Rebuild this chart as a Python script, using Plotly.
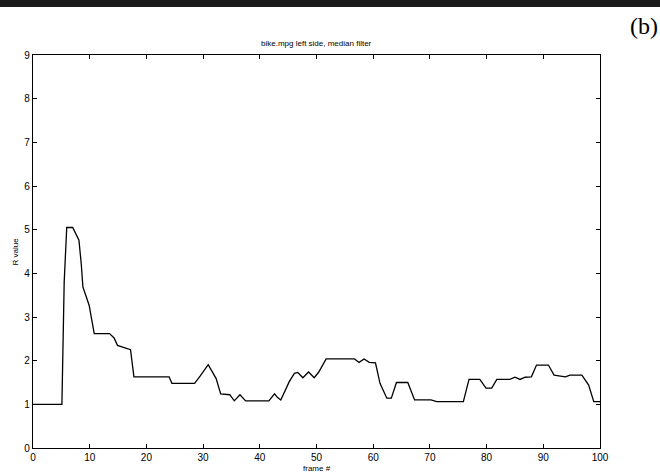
import plotly.graph_objects as go

# frame numbers and R values
frames = [0, 5.1, 5.5, 5.95, 7.0, 7.6, 8.1, 8.5, 8.8, 9.9, 10.8, 13.5, 14.3, 14.9, 16, 17.2, 17.8,
          24, 24.5, 28.5, 29.5, 30.9, 32.3, 33.1, 34.7, 35.5, 36.5, 37.5, 41.6, 42.6, 43.1, 43.7,
          45.2, 46.1, 46.7, 47.6, 48.6, 49.6, 50.4, 51.7, 56.7, 57.5, 58.4, 59.3, 60.4, 61.2,
          62.4, 63.2, 64.1, 66.1, 67.3, 70.2, 71.2, 75.9, 76.9, 78.8, 79.9, 80.9, 81.8, 84.1,
          85.0, 85.9, 86.8, 87.9, 88.8, 90.9, 91.9, 93.9, 94.7, 96.8, 98.0, 98.9, 100]
r_values = [1.0, 1.0, 3.8, 5.05, 5.05, 4.91, 4.76, 4.23, 3.69, 3.27, 2.62, 2.62, 2.52, 2.35, 2.3, 2.25, 1.63,
            1.63, 1.48, 1.48, 1.65, 1.91, 1.59, 1.24, 1.22, 1.08, 1.22, 1.08, 1.08, 1.24, 1.16, 1.10,
            1.52, 1.71, 1.73, 1.61, 1.74, 1.61, 1.74, 2.04, 2.04, 1.96, 2.04, 1.96, 1.95, 1.48,
            1.14, 1.14, 1.5, 1.5, 1.1, 1.1, 1.06, 1.06, 1.57, 1.57, 1.37, 1.37, 1.57, 1.57,
            1.62, 1.57, 1.62, 1.63, 1.9, 1.9, 1.67, 1.63, 1.67, 1.67, 1.44, 1.06, 1.06]

x_ticks = [0, 10, 20, 30, 40, 50, 60, 70, 80, 90, 100]
y_ticks = [0, 1, 2, 3, 4, 5, 6, 7, 8, 9]

title_text = "bike.mpg left side, median filter"
x_label = "frame #"
y_label = "R value"
panel_label = "(b)"

fig = go.Figure()
fig.add_trace(go.Scatter(x=frames, y=r_values, mode="lines",
                         line=dict(color="black", width=1.3), showlegend=False))

axis_common = dict(showline=True, linecolor="black", linewidth=1.2, mirror="ticks",
                   ticks="inside", ticklen=4, tickcolor="black", showgrid=False,
                   zeroline=False, tickfont=dict(family="Liberation Sans, Arial", size=10, color="black"))

fig.update_xaxes(range=[0, 100], tickvals=x_ticks, **axis_common)
fig.update_yaxes(range=[0, 9], tickvals=y_ticks, **axis_common)

fig.update_layout(
    width=660, height=475,
    margin=dict(l=33, r=60, t=55, b=27),
    paper_bgcolor="white", plot_bgcolor="white",
    annotations=[
        dict(text=title_text, xref="paper", yref="paper", x=0.5, y=1.028,
             showarrow=False, xanchor="center", yanchor="middle",
             font=dict(family="Liberation Sans, Arial", size=8, color="black")),
        dict(text=x_label, xref="paper", yref="paper", x=0.5, y=-0.052,
             showarrow=False, xanchor="center", yanchor="middle",
             font=dict(family="Liberation Sans, Arial", size=8, color="black")),
        dict(text=y_label, xref="paper", yref="paper", x=-0.03, y=0.5, textangle=-90,
             showarrow=False, xanchor="center", yanchor="middle",
             font=dict(family="Liberation Sans, Arial", size=8, color="black")),
        dict(text=panel_label, xref="paper", yref="paper", x=1.078, y=1.074,
             showarrow=False, xanchor="center", yanchor="middle",
             font=dict(family="Liberation Serif, DejaVu Serif", size=24, color="black")),
    ],
    shapes=[
        dict(type="rect", xref="paper", yref="paper", x0=-0.06, x1=1.11, y0=1.122, y1=1.145,
             fillcolor="#1a1a1a", line=dict(width=0), layer="above"),
    ],
)

fig.write_html("out.html", config={"displayModeBar": False})

# remove the browser's default page margin so the figure sits at the window's corner
with open("out.html", "r", encoding="utf-8") as f:
    html = f.read()
html = html.replace("<head>", "<head><style>html,body{margin:0;padding:0;overflow:hidden;}</style>", 1)
with open("out.html", "w", encoding="utf-8") as f:
    f.write(html)
